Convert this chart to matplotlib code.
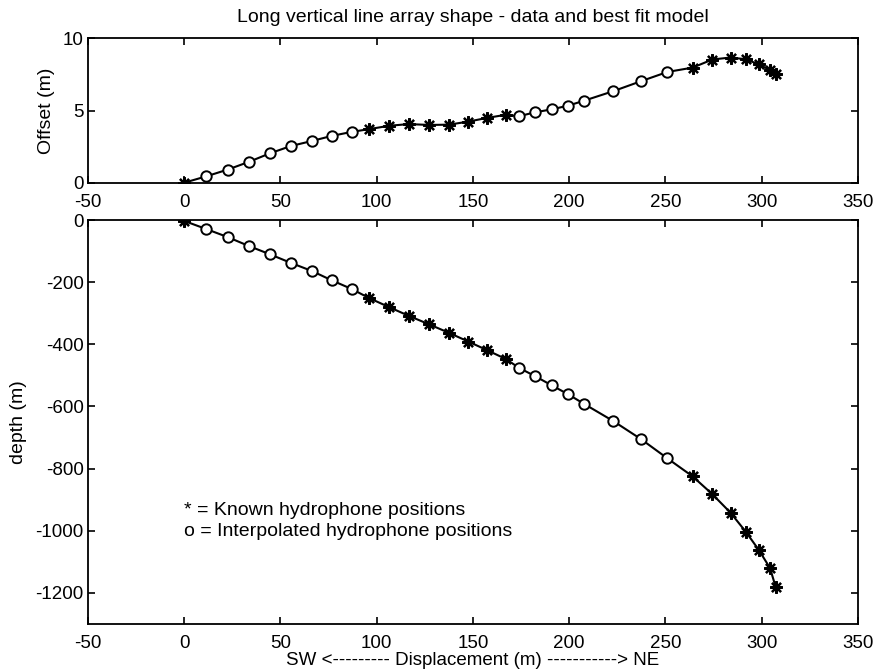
import matplotlib
matplotlib.use("Agg")
import matplotlib.pyplot as plt

# === DATA ===
displacement = [0, 11.4, 22.6, 33.7, 44.4, 55.4, 66.3, 76.6, 87.0,
                96.0, 106.3, 116.5, 127.3, 137.5, 147.5, 157.4, 167.3,
                173.7, 182.4, 190.9, 199.5, 207.5, 222.9, 237.5, 251.0,
                264.1, 274.3, 283.8, 291.7, 298.4, 304.3, 307.2]
offset = [0, 0.44, 0.91, 1.45, 2.03, 2.54, 2.89, 3.24, 3.52,
          3.71, 3.94, 4.06, 4.0, 4.02, 4.23, 4.49, 4.71,
          4.6, 4.88, 5.08, 5.34, 5.67, 6.34, 7.04, 7.67,
          7.97, 8.53, 8.67, 8.55, 8.2, 7.8, 7.55]
depth = [-3, -29, -55, -84, -110, -138, -164, -194, -222,
         -251, -280, -308, -336, -363, -391, -419, -448,
         -475, -503, -532, -561, -591, -647, -706, -767,
         -825, -882, -942, -1003, -1061, -1120, -1180]
# 1 = known hydrophone (*), 0 = interpolated (o)
known = [1, 0, 0, 0, 0, 0, 0, 0, 0,
         1, 1, 1, 1, 1, 1, 1, 1,
         0, 0, 0, 0, 0, 0, 0, 0,
         1, 1, 1, 1, 1, 1, 1]

x_ticks = [-50, 0, 50, 100, 150, 200, 250, 300, 350]
offset_ticks = [0, 5, 10]
depth_ticks = [0, -200, -400, -600, -800, -1000, -1200]

title = "Long vertical line array shape - data and best fit model"
xlabel = "SW <--------- Displacement (m) -----------> NE"
note_known = "* = Known hydrophone positions"
note_interp = "o = Interpolated hydrophone positions"

# === STYLE ===
plt.rcParams["font.family"] = ["Liberation Sans", "DejaVu Sans"]
plt.rcParams["axes.unicode_minus"] = False
asterisk = (8, 2, 0)


def style_axes(ax):
    ax.tick_params(direction="in", length=5, width=1.2, top=True, right=True,
                   labelsize=13.5)
    ax.tick_params(axis="x", pad=8)
    ax.tick_params(axis="y", pad=3)
    for s in ax.spines.values():
        s.set_linewidth(1.3)


def draw(ax, xs, ys):
    ax.plot(xs, ys, color="black", lw=1.5, zorder=2)
    kx = [x for x, k in zip(xs, known) if k]
    ky = [y for y, k in zip(ys, known) if k]
    ix = [x for x, k in zip(xs, known) if not k]
    iy = [y for y, k in zip(ys, known) if not k]
    ax.plot(kx, ky, ls="none", marker=asterisk, ms=9, mew=1.6, color="black", zorder=3)
    ax.plot(ix, iy, ls="none", marker="o", ms=7.5, mew=1.4, mfc="white", mec="black", zorder=3)


fig = plt.figure(figsize=(8.79, 6.72), dpi=100)

# top: offset
ax1 = fig.add_axes([0.1001, 0.7281, 0.876, 0.2149])
draw(ax1, displacement, offset)
ax1.set_xlim(-50, 350)
ax1.set_ylim(0, 10)
ax1.set_xticks(x_ticks)
ax1.set_yticks(offset_ticks)
ax1.set_ylabel("Offset (m)", fontsize=14)
ax1.yaxis.set_label_coords(-0.043, 0.5)
ax1.set_title(title, fontsize=14, pad=12)
style_axes(ax1)

# bottom: depth
ax2 = fig.add_axes([0.1001, 0.0714, 0.876, 0.6012])
draw(ax2, displacement, depth)
ax2.set_xlim(-50, 350)
ax2.set_ylim(-1300, 0)
ax2.set_xticks(x_ticks)
ax2.set_yticks(depth_ticks)
ax2.set_ylabel("depth (m)", fontsize=14)
ax2.yaxis.set_label_coords(-0.079, 0.5)
ax2.set_xlabel(xlabel, fontsize=13.5, labelpad=0)
style_axes(ax2)

ax2.text(0, -934, note_known, fontsize=14, va="center", ha="left")
ax2.text(0, -1001, note_interp, fontsize=14, va="center", ha="left")

fig.savefig("out.png", dpi=100)
